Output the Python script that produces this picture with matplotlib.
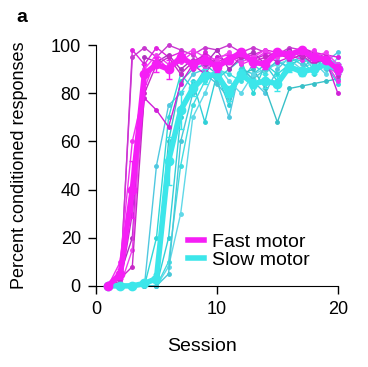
import matplotlib
matplotlib.use('Agg')
import matplotlib.pyplot as plt
from matplotlib.lines import Line2D
import numpy as np

plt.rcParams['font.family'] = ['Liberation Sans', 'DejaVu Sans']

sessions = np.arange(1, 21)

# individual fast-motor mice
fast_mice = [
    [0, 0, 98, 92, 99, 95, 97, 90, 97, 93, 95, 95, 96, 98, 97, 95, 99, 97, 96, 95],
    [0, 2, 95, 99, 95, 100, 98, 96, 99, 98, 100, 97, 99, 97, 96, 99, 98, 97, 95, 90],
    [0, 10, 60, 82, 95, 90, 93, 97, 90, 95, 96, 92, 94, 97, 95, 96, 94, 98, 93, 85],
    [0, 5, 20, 95, 93, 96, 90, 94, 92, 98, 90, 95, 97, 92, 96, 98, 95, 96, 92, 88],
    [0, 0, 30, 78, 73, 66, 84, 92, 88, 95, 93, 96, 94, 96, 93, 95, 97, 93, 94, 80],
    [0, 0, 15, 90, 96, 92, 95, 98, 95, 94, 97, 93, 95, 98, 95, 97, 96, 95, 97, 92],
    [0, 3, 8, 80, 92, 95, 88, 93, 96, 92, 94, 95, 93, 95, 97, 94, 96, 92, 95, 87],
]
# individual slow-motor mice
slow_mice = [
    [0, 0, 0, 0, 0, 20, 70, 85, 68, 88, 75, 90, 88, 92, 85, 93, 95, 92, 94, 90],
    [0, 0, 0, 0, 50, 75, 80, 88, 90, 85, 70, 92, 85, 80, 90, 95, 92, 96, 93, 97],
    [0, 0, 0, 0, 0, 10, 50, 75, 85, 90, 88, 85, 92, 88, 94, 90, 96, 90, 95, 92],
    [0, 0, 0, 0, 5, 60, 85, 90, 92, 88, 82, 88, 90, 82, 68, 82, 83, 84, 85, 86],
    [0, 0, 0, 0, 0, 8, 30, 70, 80, 92, 85, 80, 88, 90, 92, 94, 90, 93, 88, 95],
    [0, 0, 0, 0, 20, 70, 88, 82, 90, 86, 90, 94, 80, 92, 88, 92, 94, 88, 92, 84],
    [0, 0, 0, 0, 0, 5, 60, 80, 88, 84, 78, 90, 86, 90, 93, 91, 90, 95, 90, 92],
]

fast_mean = [0, 5, 40, 88, 92, 90, 95, 92, 94, 91, 94, 97, 93, 92, 97, 96, 98, 95, 94, 90]
fast_sem = [0, 2, 12, 4, 3, 4, 2, 2, 2, 2, 2, 1, 2, 2, 1, 1, 1, 1, 1, 2]
slow_mean = [0, 0, 0, 1, 3, 52, 73, 82, 87, 88, 80, 88, 84, 85, 84, 91, 89, 90, 92, 90]
slow_sem = [0, 0, 0, 1, 2, 10, 8, 3, 3, 2, 3, 2, 2, 3, 3, 2, 2, 2, 2, 2]

fast_col = '#f51ef5'
fast_thin = ['#e020e0', '#c838d0', '#f030f0', '#b030c0', '#d020d8', '#f040f0', '#c828c8']
slow_col = '#3ce6ea'
slow_thin = ['#30d0d8', '#50c8e0', '#40dde0', '#38c0c8', '#60d8e8', '#30d8d8', '#48c8d8']

fig = plt.figure(figsize=(3.68, 3.67), dpi=100)
ax = fig.add_axes([0.261, 0.221, 0.657, 0.656])

for i, m in enumerate(slow_mice):
    ax.plot(sessions, m, '-o', color=slow_thin[i], lw=1, ms=2.5, clip_on=False, zorder=2)
for i, m in enumerate(fast_mice):
    ax.plot(sessions, m, '-o', color=fast_thin[i], lw=1, ms=2.5, clip_on=False, zorder=2)

ax.errorbar(sessions, slow_mean, yerr=slow_sem, fmt='-o', color=slow_col, lw=4, ms=6,
            elinewidth=1, capsize=2, clip_on=False, zorder=3)
ax.errorbar(sessions, fast_mean, yerr=fast_sem, fmt='-o', color=fast_col, lw=4, ms=6,
            elinewidth=1, capsize=2, clip_on=False, zorder=4)

ax.set_xlim(0, 20)
ax.set_ylim(0, 100)
ax.set_xticks([0, 10, 20])
ax.set_yticks([0, 20, 40, 60, 80, 100])
for s in ['top', 'right']:
    ax.spines[s].set_visible(False)
ax.tick_params(labelsize=13, length=6, width=1, direction='out', pad=5)
ax.set_xlabel('Session', fontsize=14)
ax.set_ylabel('Percent conditioned responses', fontsize=13)
ax.xaxis.set_label_coords(0.44, -0.216)
ax.yaxis.set_label_coords(-0.28, 0.5)

handles = [Line2D([0], [0], color=fast_col, lw=4),
           Line2D([0], [0], color=slow_col, lw=4)]
fig.legend(handles, ['Fast motor', 'Slow motor'], loc='upper left', frameon=False,
           fontsize=14, handlelength=0.85, handletextpad=0.4, labelspacing=0.0,
           bbox_to_anchor=(0.463, 0.412))

fig.text(0.045, 0.975, 'a', fontsize=14, fontweight='bold', va='top')

fig.savefig('out.png', dpi=100)
